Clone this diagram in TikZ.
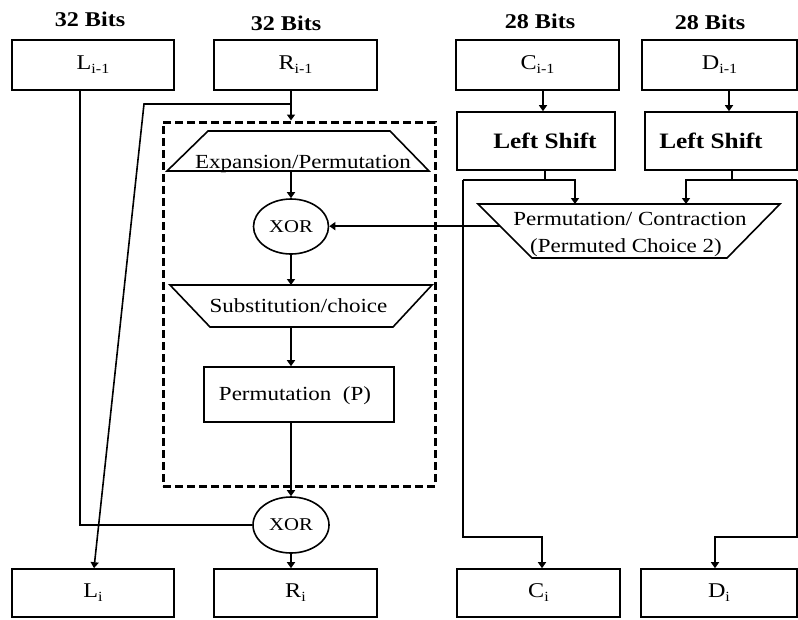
\documentclass[tikz,border=0pt]{standalone}
\usepackage{fontspec}
\setmainfont{Liberation Serif}[FakeStretch=1.15]
\usetikzlibrary{arrows.meta,calc,shapes.geometric}
% lowered index such as the "i-1" in L_{i-1}
\newcommand\lowsub[1]{\raisebox{-4pt}{\fontsize{14}{14}\selectfont #1}}

\begin{document}
\begin{tikzpicture}[x=1pt,y=-1pt,
  line width=1.6pt,
  arr/.style={-{Triangle[width=8pt,length=6pt]}},
  regbox/.style={draw, rectangle, inner sep=0pt, font=\fontsize{21}{24}\selectfont},
  shiftbox/.style={draw, rectangle, inner sep=0pt, minimum width=#1, minimum height=58pt,
    font=\fontsize{22}{24}\bfseries\selectfont},
  xorgate/.style={draw, ellipse, inner sep=0pt, minimum width=75pt, minimum height=55pt,
    font=\fontsize{18}{20}\selectfont},
  lbl/.style={font=\fontsize{20}{24}\selectfont, anchor=base, inner sep=0pt},
  hdr/.style={font=\fontsize{21}{24}\bfseries\selectfont, inner sep=0pt}]

\useasboundingbox[fill=white] (0,0) rectangle (798,619);

% ---- bit-width headers
\node[hdr] (h1) at (90,19) {32 Bits};
\node[hdr] (h2) at (286,23) {32 Bits};
\node[hdr] (h3) at (540,21) {28 Bits};
\node[hdr] (h4) at (710,22) {28 Bits};

% ---- input registers
\node[regbox, minimum width=162pt, minimum height=50pt] (Lprev) at (93,65) {L\lowsub{i-1}};
\node[regbox, minimum width=163pt, minimum height=50pt] (Rprev) at (295.5,65) {R\lowsub{i-1}};
\node[regbox, minimum width=163pt, minimum height=50pt] (Cprev) at (537.5,65) {C\lowsub{i-1}};
\node[regbox, minimum width=155pt, minimum height=50pt] (Dprev) at (719.5,65) {D\lowsub{i-1}};

% ---- output registers
\node[regbox, minimum width=162pt, minimum height=48pt] (Lnext) at (93,593) {L\lowsub{i}};
\node[regbox, minimum width=163pt, minimum height=48pt] (Rnext) at (295.5,593) {R\lowsub{i}};
\node[regbox, minimum width=163pt, minimum height=48pt] (Cnext) at (538.5,593) {C\lowsub{i}};
\node[regbox, minimum width=156pt, minimum height=48pt] (Dnext) at (719,593) {D\lowsub{i}};

% ---- key schedule
\node[shiftbox=158pt] (LS1) at (536,141) {\hspace*{18pt}Left Shift};
\node[shiftbox=152pt] (LS2) at (721,141) {Left Shift\hspace*{20pt}};
% permuted choice 2 (inverted trapezoid)
\coordinate (pctl) at (478,204);
\coordinate (pctr) at (780,204);
\coordinate (pcbr) at (727,258);
\coordinate (pcbl) at (532,258);
\draw (pctl) -- (pctr) -- (pcbr) -- (pcbl) -- cycle;
\node[lbl] (pc2a) at (630,225) {Permutation/ Contraction};
\node[lbl] (pc2b) at (626,252) {(Permuted Choice 2)};

% ---- round function F
\node[draw, line width=3pt, dash pattern=on 8pt off 4pt, inner sep=0pt,
      minimum width=272pt, minimum height=364pt] (dbox) at (299,304) {};
% expansion (upright trapezoid)
\coordinate (extl) at (208,131);
\coordinate (extr) at (390,131);
\coordinate (exbr) at (429,171);
\coordinate (exbl) at (167,171);
\draw (extl) -- (extr) -- (exbr) -- (exbl) -- cycle;
\node[lbl] (expt) at (303,168) {Expansion/Permutation};
\node[xorgate] (xor1) at (291,226.5) {XOR};
% substitution (inverted trapezoid)
\coordinate (sbtl) at (170,285);
\coordinate (sbtr) at (432,285);
\coordinate (sbbr) at (393,327);
\coordinate (sbbl) at (210,327);
\draw (sbtl) -- (sbtr) -- (sbbr) -- (sbbl) -- cycle;
\node[lbl] (substt) at (298.5,312) {Substitution/choice};
\node[draw, rectangle, inner sep=0pt, minimum width=190pt, minimum height=55pt] (perm) at (299,394.5) {};
\node[lbl] (permt) at (295,400) {Permutation\ \ (P)};
\node[xorgate, minimum width=76pt, minimum height=56pt] (xor2) at (291,525) {XOR};

% ---- data path
\coordinate (rs) at (291,104);
\coordinate (rl) at (144,104);
\draw ([xshift=-13pt]Lprev.south) |- (xor2.west);
\draw ([xshift=-4.5pt]Rprev.south) -- (rs);
\draw[arr] (rs) -- (rs |- dbox.north);
\draw[arr] (rs) -- (rl) -- ([xshift=1pt]Lnext.north);
\draw[arr] (xor1.north |- exbl) -- (xor1.north);
\draw[arr] (xor1.south) -- (xor1.south |- sbtl);
\draw[arr] (xor1.south |- sbbl) -- (xor1.south |- perm.north);
\draw[arr] (xor2.north |- perm.south) -- (xor2.north);
\draw[arr] (xor2.south) -- (xor2.south |- Rnext.north);

% subkey into the first XOR
\coordinate (pcin) at ($(pctl)!0.41!(pcbl)$);
\draw[arr] (pcin) -- (pcin -| xor1.east);

% ---- key path
\coordinate (cj) at (545,180);
\coordinate (cl) at (463,180);
\coordinate (cr) at (575,180);
\coordinate (cd) at (542,537);
\coordinate (dj) at (732,180);
\coordinate (dl) at (686,180);
\coordinate (dr) at (797,180);
\coordinate (dd) at (715,537);
\draw[arr] ([xshift=5.5pt]Cprev.south) -- ([xshift=5.5pt]Cprev.south |- LS1.north);
\draw[arr] ([xshift=9.5pt]Dprev.south) -- ([xshift=9.5pt]Dprev.south |- LS2.north);
\draw (LS1.south -| cj) -- (cj);
\draw (LS2.south -| dj) -- (dj);
\draw[arr] (cl) -- (cr) -- (cr |- pctl);
\draw[arr] (cl) |- (cd) -- (cd |- Cnext.north);
\draw[arr] (dr) -- (dl) -- (dl |- pctl);
\draw[arr] (dr) |- (dd) -- (dd |- Dnext.north);
\end{tikzpicture}
\end{document}
